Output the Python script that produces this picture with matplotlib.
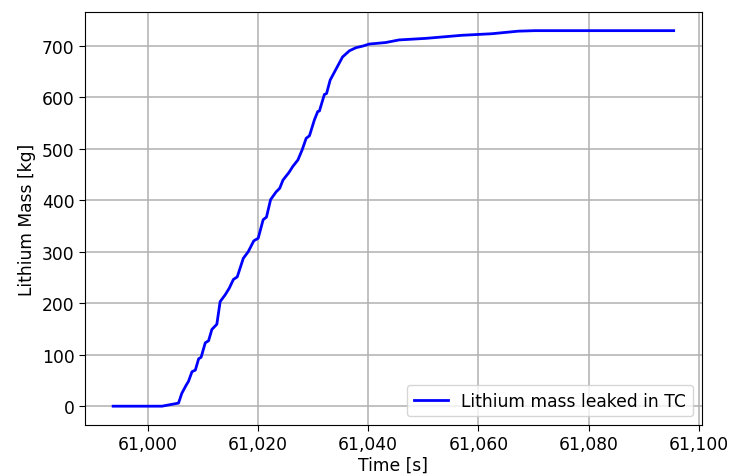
import matplotlib

matplotlib.use("Agg")
import matplotlib.pyplot as plt
from matplotlib.ticker import FuncFormatter

# time [s] and leaked lithium mass [kg]
time_s = [
    60993.75, 61002.6, 61005.6, 61006.2, 61007.0, 61007.4, 61008.05, 61008.65,
    61009.25, 61009.7, 61010.45, 61011.05, 61011.65, 61012.55, 61013.15,
    61014.05, 61014.8, 61015.55, 61016.25, 61017.35, 61018.25, 61019.25,
    61020.05, 61020.95, 61021.55, 61022.3, 61023.3, 61023.95, 61024.55,
    61025.65, 61026.3, 61027.25, 61028.0, 61028.75, 61029.35, 61030.25,
    61030.85, 61031.15, 61032.05, 61032.45, 61033.1, 61034.2, 61035.35,
    61036.6, 61037.8, 61039.0, 61040.2, 61043.2, 61045.6, 61050.4, 61057.0,
    61062.4, 61067.2, 61070.2, 61095.4,
]
mass_kg = [
    0, 0, 6, 25, 41, 48, 67, 70,
    92, 95, 123, 127, 149, 159, 203,
    216, 229, 246, 251, 287, 300, 321,
    326, 362, 367, 401, 416, 423, 439,
    454, 465, 478, 497, 520, 525, 556,
    572, 573, 605, 607, 633, 655, 678,
    690, 696, 699, 703, 706, 711, 714, 720,
    723, 728, 729, 729,
]

FS = 12.3

fig = plt.figure(figsize=(7.34, 4.77), dpi=100)
ax = fig.add_axes([0.116, 0.107, 0.84, 0.866])
ax.plot(time_s, mass_kg, color="blue", linewidth=2.0, label="Lithium mass leaked in TC")

ax.xaxis.set_major_formatter(FuncFormatter(lambda v, _: f"{v:,.0f}"))
ax.set_xticks([61000, 61020, 61040, 61060, 61080, 61100])
ax.set_yticks(range(0, 701, 100))
ax.tick_params(labelsize=FS, length=4)
ax.set_xlabel("Time [s]", fontsize=FS, labelpad=2)
ax.set_ylabel("Lithium Mass [kg]", fontsize=FS)
ax.grid(True, color="#b0b0b0", linewidth=1.1)
ax.legend(loc="lower right", fontsize=FS)

fig.savefig("out.png", dpi=100)
